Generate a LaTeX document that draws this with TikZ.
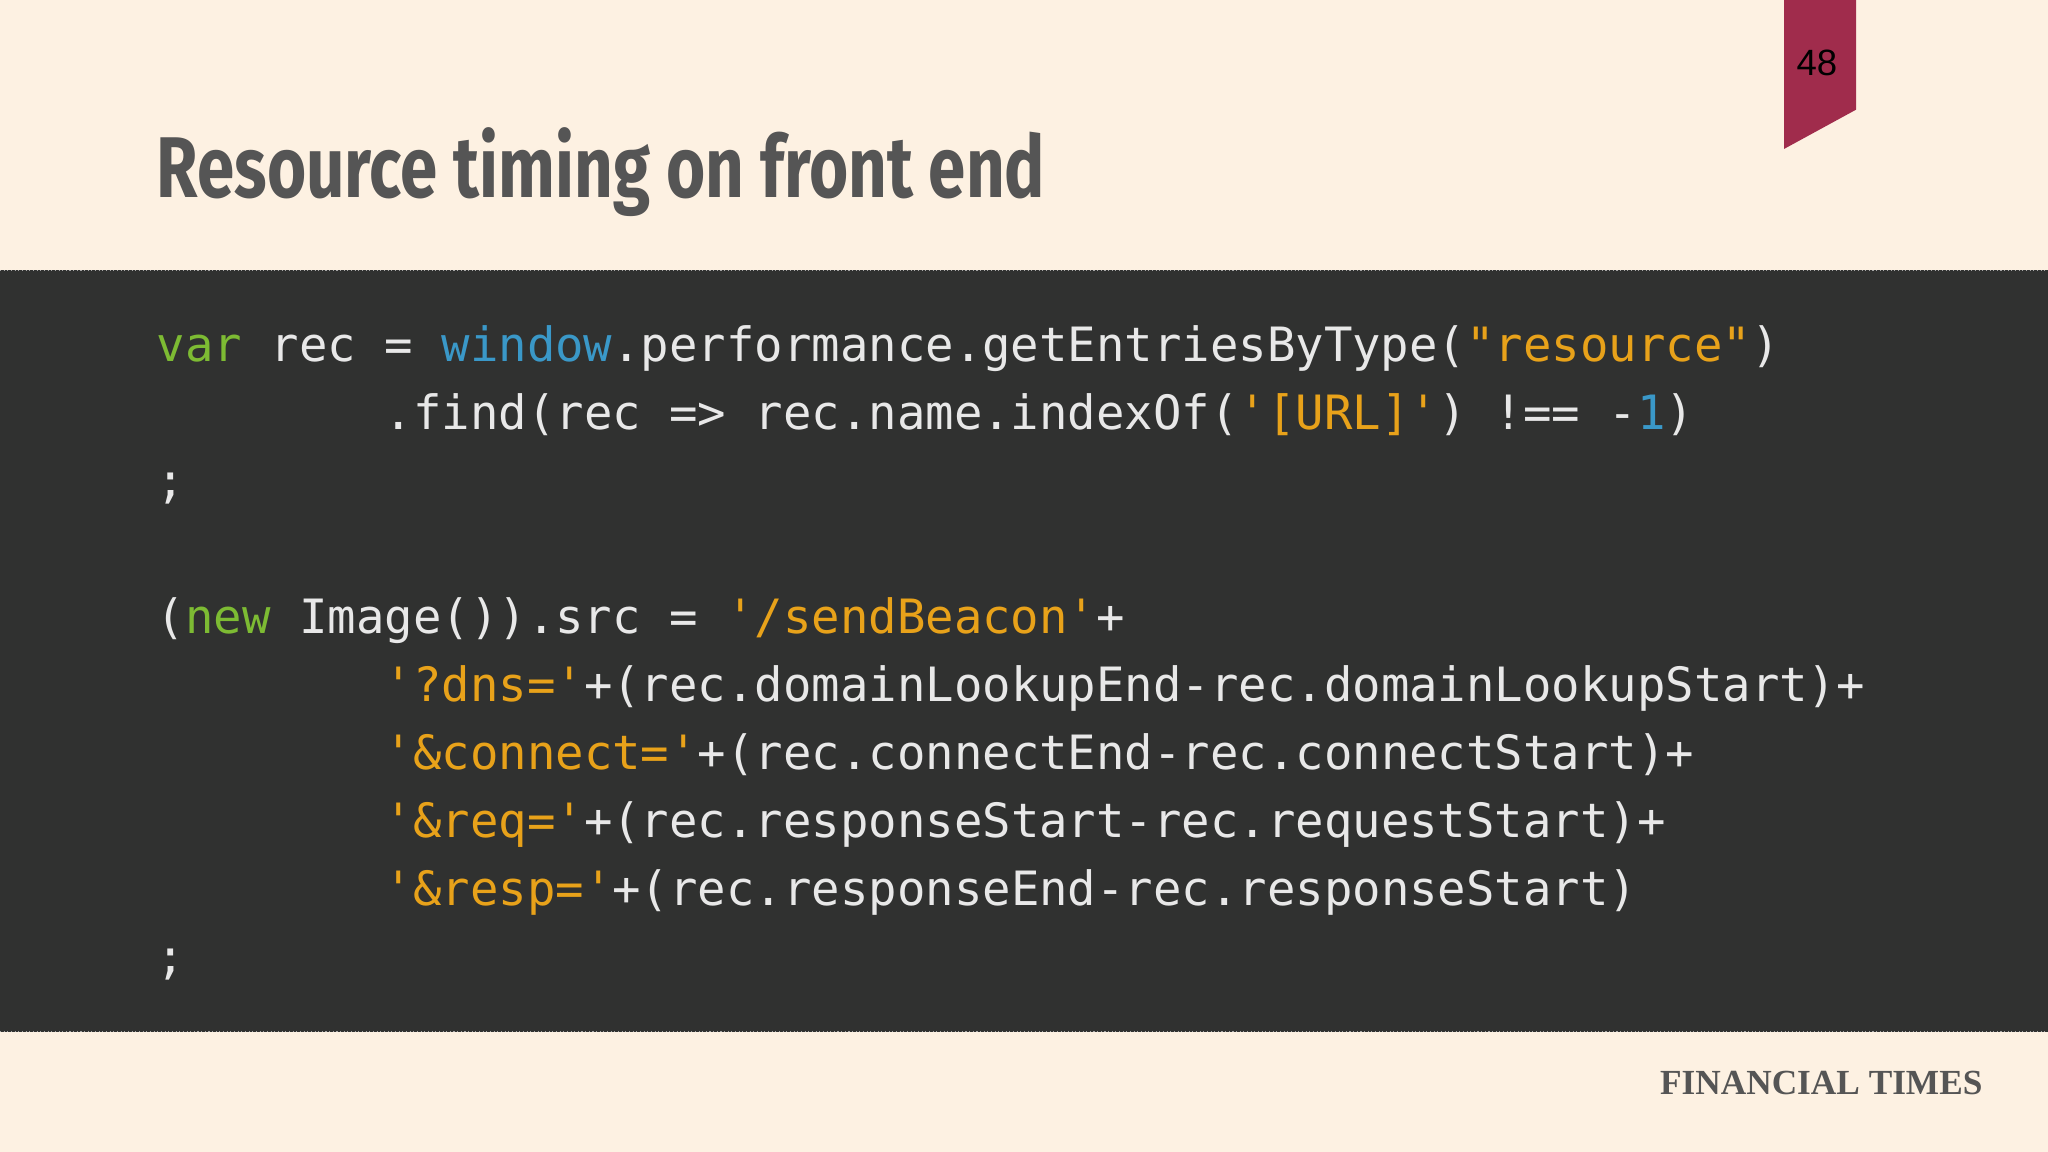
\documentclass[tikz,border=0pt]{standalone}
\usepackage{fontspec}
\setmainfont{Liberation Serif}
\setmonofont{DejaVu Sans Mono}
\newfontfamily\titlefont{Fira Sans}
\newfontfamily\numfont{Liberation Sans}
\definecolor{bgc}{HTML}{FDF1E2}
\definecolor{codebg}{HTML}{303130}
\definecolor{codefg}{HTML}{E8E8E8}
\definecolor{kwc}{HTML}{7DBB33}
\definecolor{blc}{HTML}{3A98C8}
\definecolor{stc}{HTML}{E8A21A}
\definecolor{tabc}{HTML}{A02C4C}
\definecolor{titlec}{HTML}{555555}
\newcommand{\kwx}[1]{\textcolor{kwc}{#1}}
\newcommand{\blx}[1]{\textcolor{blc}{#1}}
\newcommand{\stx}[1]{\textcolor{stc}{#1}}
\begin{document}
\begin{tikzpicture}[x=1pt,y=-1pt,
  codeline/.style={anchor=base west,inner sep=0pt,text=codefg,font=\fontsize{36.2}{40}\ttfamily}]
\useasboundingbox (0,0) rectangle (1568,882);
\fill[bgc] (0,0) rectangle (1568,882);
\fill[codebg] (0,207) rectangle (1568,790);
\draw[gray!70,dotted,line width=0.8pt] (0,207) -- (1568,207);
\draw[gray!70,dotted,line width=0.8pt] (0,790) -- (1568,790);
\fill[tabc] (1366,0) -- (1421,0) -- (1421,84) -- (1366,114) -- cycle;
\node[font=\fontsize{28}{30}\numfont,text=black] (num) at (1391,48) {48};
\node[anchor=base west,inner sep=0pt,text=titlec,font=\fontsize{66}{70}\titlefont\bfseries,xscale=0.78] (title) at (120,151) {Resource timing on front end};
\node[anchor=base east,inner sep=0pt,text=titlec,font=\fontsize{27}{30}\selectfont\bfseries] (ft) at (1518,838) {FINANCIAL TIMES};
\node[codeline] (l1) at (120,277) {\kwx{var}\ rec\ =\ \blx{window}.performance.getEntriesByType(\stx{"resource"})};
\node[codeline] (l2) at (294.4,329) {.find(rec\ =>\ rec.name.indexOf(\stx{'[URL]'})\ !==\ -\blx{1})};
\node[codeline] (l3) at (120,381) {;};
\node[codeline] (l5) at (120,485) {(\kwx{new}\ Image()).src\ =\ \stx{'/sendBeacon'}+};
\node[codeline] (l6) at (294.4,537) {\stx{'?dns='}+(rec.domainLookupEnd-rec.domainLookupStart)+};
\node[codeline] (l7) at (294.4,589) {\stx{'\&connect='}+(rec.connectEnd-rec.connectStart)+};
\node[codeline] (l8) at (294.4,641) {\stx{'\&req='}+(rec.responseStart-rec.requestStart)+};
\node[codeline] (l9) at (294.4,693) {\stx{'\&resp='}+(rec.responseEnd-rec.responseStart)};
\node[codeline] (l10) at (120,745) {;};
\end{tikzpicture}
\end{document}
